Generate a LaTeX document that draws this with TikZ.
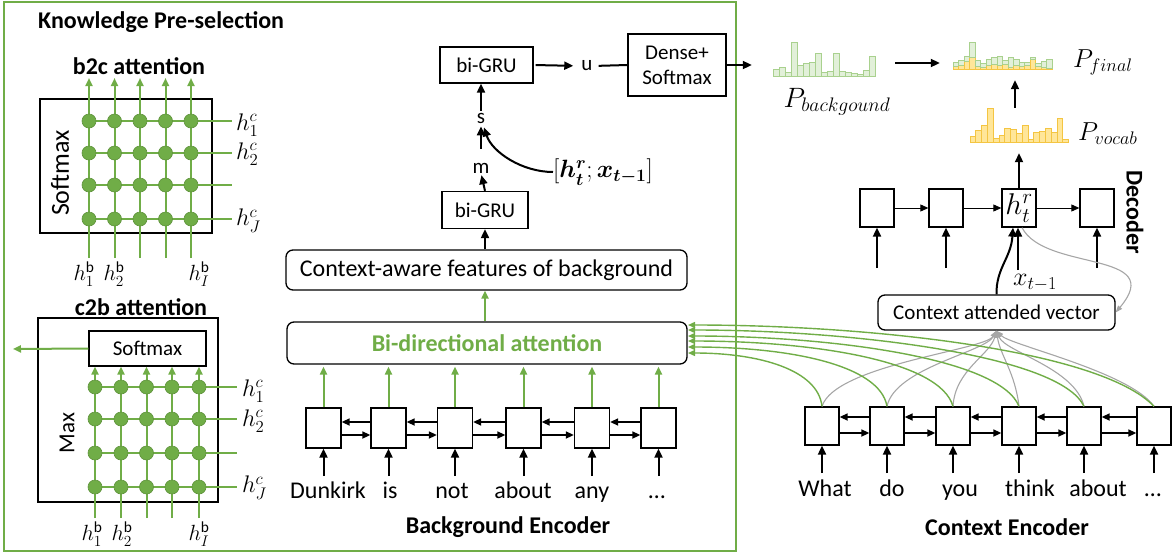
\RequirePackage{fix-cm}
\documentclass[tikz,border=0pt]{standalone}
\usepackage{amsmath}
\usepackage{fontspec}
\setmainfont{Carlito}
\usetikzlibrary{arrows.meta}
\definecolor{ggreen}{HTML}{70AD47}
\definecolor{lgfill}{HTML}{E2F0D9}
\definecolor{lgline}{HTML}{A9D18E}
\definecolor{yfill}{HTML}{FFE699}
\definecolor{yline}{HTML}{F4C542}
\definecolor{cgray}{HTML}{A6A6A6}
\tikzset{
  txt/.style={font=\fontsize{21}{25}\selectfont, inner sep=0pt},
  ltxt/.style={font=\fontsize{24}{28}\selectfont, inner sep=0pt},
  btxt/.style={font=\fontsize{24}{28}\selectfont\bfseries, inner sep=0pt},
  mtxt/.style={font=\fontsize{24}{28}\selectfont, inner sep=0pt},
  hbtxt/.style={font=\fontsize{22}{26}\selectfont, inner sep=0pt},
  ptxt/.style={font=\fontsize{26}{30}\selectfont, inner sep=0pt},
  cell/.style={draw, line width=1.3pt, minimum width=35pt, minimum height=40pt, inner sep=0pt},
  blk/.style={draw, line width=1.3pt, inner sep=0pt},
  rbox/.style={draw, line width=1.3pt, rounded corners=7pt, inner sep=0pt},
  hist/.style={inner sep=0pt, minimum width=100pt},
  arr/.style={line width=2pt, -{Triangle[length=9pt,width=8pt]}},
  harr/.style={line width=1.6pt, -{Triangle[length=8pt,width=7pt]}},
  tarr/.style={line width=0.9pt, -{Triangle[length=8pt,width=7pt]}},
  garr/.style={ggreen, line width=2pt, -{Triangle[length=8pt,width=7pt]}},
  gline/.style={ggreen, line width=2pt},
  gcurve/.style={ggreen, line width=1.4pt, -{Triangle[length=7pt,width=6pt]}},
  graycurve/.style={cgray, line width=1.1pt, -{Triangle[length=7pt,width=5pt]}},
  dot/.style={circle, fill=ggreen, draw=ggreen!85!black, line width=0.6pt, minimum size=14pt, inner sep=0pt},
  gbar/.style={fill=lgfill, draw=lgline, line width=0.8pt},
  ybar/.style={fill=yfill, draw=yline, line width=0.8pt},
  word/.style={font=\fontsize{24}{28}\selectfont, inner sep=0pt, anchor=base},
}
\begin{document}
\begin{tikzpicture}[x=1pt,y=-1pt]
\useasboundingbox (0,0) rectangle (1173,555);
% outer frame
\node[draw=ggreen, line width=2pt, minimum width=732pt, minimum height=549pt, inner sep=0pt] (frame) at (370,276.5) {};
\node[btxt, anchor=west] (title) at (38,22) {Knowledge Pre-selection};

% ---------- b2c attention ----------
\node[btxt] (b2ct) at (139,66) {b2c attention};
\node[blk, minimum width=172pt, minimum height=134pt] (b2cbox) at (126,166) {};
\node[txt, font=\fontsize{26}{30}\selectfont, rotate=90] (b2csm) at (60,173) {Softmax};
\foreach \x [count=\i] in {89,114.5,140,165.5,191} {
  \coordinate (ba\i) at (\x,258);
  \coordinate (bb\i) at (\x,78);
  \draw[garr] (ba\i) -- (bb\i);
}
\foreach \y [count=\j] in {121,153,185,219} {
  \coordinate (ra\j) at (89,\y);
  \coordinate (rb\j) at (232,\y);
  \draw[gline] (ra\j) -- (rb\j);
  \foreach \x [count=\i] in {89,114.5,140,165.5,191} \node[dot] (bd\i\j) at (\x,\y) {};
}
\node[mtxt, anchor=west] (hc1a) at (236,125) {$h_1^c$};
\node[mtxt, anchor=west] (hc2a) at (236,154) {$h_2^c$};
\node[mtxt, anchor=west] (hcJa) at (236,221) {$h_J^c$};
\node[hbtxt] (hb1a) at (84,274) {$h_1^{\mathrm{b}}$};
\node[hbtxt] (hb2a) at (114,274) {$h_2^{\mathrm{b}}$};
\node[hbtxt] (hbIa) at (199,274) {$h_I^{\mathrm{b}}$};

% ---------- c2b attention ----------
\node[btxt] (c2bt) at (141,307) {c2b attention};
\node[blk, minimum width=180pt, minimum height=184pt] (c2bbox) at (128,410) {};
\node[blk, txt, minimum width=117pt, minimum height=35pt] (c2bsm) at (147.5,348.5) {Softmax};
\node[txt, font=\fontsize{23}{27}\selectfont, rotate=90] (c2bmax) at (67,433) {Max};
\coordinate (c2bout) at (13,349);
\draw[garr] (c2bsm.west) -- (c2bout);
\foreach \x [count=\i] in {95,121,146.5,172,199} {
  \coordinate (ca\i) at (\x,518);
  \draw[garr] (ca\i) -- (ca\i |- c2bsm.south);
}
\foreach \y [count=\j] in {387,419,453,487} {
  \coordinate (rc\j) at (95,\y);
  \coordinate (rd\j) at (237,\y);
  \draw[gline] (rc\j) -- (rd\j);
  \foreach \x [count=\i] in {95,121,146.5,172,199} \node[dot] (cd\i\j) at (\x,\y) {};
}
\node[mtxt, anchor=west] (hc1b) at (242,391) {$h_1^c$};
\node[mtxt, anchor=west] (hc2b) at (242,421) {$h_2^c$};
\node[mtxt, anchor=west] (hcJb) at (242,488) {$h_J^c$};
\node[hbtxt] (hb1b) at (92,534) {$h_1^{\mathrm{b}}$};
\node[hbtxt] (hb2b) at (122,534) {$h_2^{\mathrm{b}}$};
\node[hbtxt] (hbIb) at (199,534) {$h_I^{\mathrm{b}}$};

% ---------- knowledge pre-selection pipeline ----------
\node[blk, txt, minimum width=93pt, minimum height=36pt] (gruTop) at (486.5,65) {bi-GRU};
\node[txt] (u) at (587,66) {u};
\node[blk, txt, minimum width=98pt, minimum height=62pt, align=center] (dense) at (677,65) {Dense+\\Softmax};
\draw[arr, shorten <=2pt, shorten >=8pt] (gruTop.east) -- (u.west);
\draw[line width=2pt, shorten <=6pt] (u.east) -- (dense.west);
\node[txt] (s) at (481,118) {s};
\node[txt] (m) at (481,168) {m};
\draw[arr, shorten <=2pt] (s.north) -- (s.north |- gruTop.south);
\draw[arr, shorten <=14pt, shorten >=3pt] (m.north) -- (s.south);
\node[mtxt, font=\fontsize{25}{29}\selectfont] (hx) at (603,172) {$[\boldsymbol{h_t^r};\boldsymbol{x_{t-1}}]$};
\draw[arr] (hx.west) .. controls (522,172) and (492,152) .. ([shift={(3pt,-4pt)}]s.south);
\node[blk, txt, minimum width=86pt, minimum height=37pt] (gruBot) at (485,210) {bi-GRU};
\draw[arr, shorten >=2pt] (gruBot.north) -- (m.south);
\node[rbox, ltxt, minimum width=401pt, minimum height=40pt] (ctx) at (486.5,270) {Context-aware features of background};
\draw[arr] (ctx.north -| gruBot.south) -- (gruBot.south);
\node[rbox, btxt, minimum width=400pt, minimum height=42pt, text=ggreen] (bidir) at (487,343) {Bi-directional attention};
\draw[garr] (bidir.north -| gruBot.south) -- (ctx.south -| gruBot.south);

% background encoder
\foreach \cx/\wx/\w [count=\i] in {323.5/328/Dunkirk,388.5/390/is,455/452/not,523.5/523/about,592/592/any,658.5/657/…} {
  \node[cell] (bc\i) at (\cx,428) {};
  \draw[garr, shorten >=2pt] (bc\i.north) -- (bc\i.north |- bidir.south);
  \coordinate (bi\i) at (\cx,476);
  \draw[arr] (bi\i) -- (bc\i.south);
  \node[word] (bw\i) at (\wx,498) {\w};
}
\foreach \i/\j in {1/2,2/3,3/4,4/5,5/6} {
  \draw[harr] ([yshift=6pt]bc\j.west) -- ([yshift=6pt]bc\i.east);
  \draw[harr] ([yshift=-7pt]bc\i.east) -- ([yshift=-7pt]bc\j.west);
}
\node[btxt] (bgenc) at (508,527) {Background Encoder};

% ---------- distributions ----------
\foreach \h [count=\i from 0] in {7,9,4,34,11,13,14,23,4,5,23,5,4,3,2,6,20}
  \draw[gbar] ({773+6*\i},76) rectangle ++(6,-\h);
\node[hist, minimum width=102pt, minimum height=34pt] (pbg) at (824,59) {};
\foreach \a/\b [count=\i from 0] in {3/4,4/5,8/5,12/15,3/6,2/4,4/6,5/7,4/9,5/4,2/10,4/6,3/4,4/3,10/2,3/3,2/6,1/9}
  { \draw[ybar] ({953+5.5*\i},69) rectangle ++(5.5,-\a);
    \draw[gbar] ({953+5.5*\i},{69-\a}) rectangle ++(5.5,-\b); }
\node[hist, minimum width=99pt, minimum height=27pt] (pfin) at (1002.5,55.5) {};
\foreach \h [count=\i from 0] in {6,12,17,34,4,7,14,13,9,17,3,10,11,14,10,24,3}
  \draw[ybar] ({970+5.8*\i},142) rectangle ++(5.8,-\h);
\node[hist, minimum width=99pt, minimum height=34pt] (pvoc) at (1019.5,125) {};
\node[ptxt, font=\fontsize{28}{32}\selectfont] (pbgl) at (837,102) {$P_{backgound}$};
\node[ptxt, anchor=west] (pfinl) at (1073,62) {$P_{final}$};
\node[ptxt, anchor=west] (pvocl) at (1078,134) {$P_{vocab}$};
\draw[arr, shorten >=21pt] (dense.east) -- (dense.east -| pbg.west);
\draw[arr, shorten <=20pt, shorten >=13pt] (pbg.east |- 0,63) -- (pfin.west |- 0,63);
\draw[arr, shorten >=11pt] (pvoc.north -| 1015,0) -- (pfin.south -| 1015,0);

% ---------- decoder ----------
\node[cell, minimum width=34pt, minimum height=38pt] (d1) at (877,208) {};
\node[cell, minimum width=34pt, minimum height=38pt] (d2) at (946,208) {};
\node[cell, minimum width=34pt, minimum height=38pt, font=\fontsize{30}{34}\selectfont] (d3) at (1019,208) {$h_t^r$};
\node[cell, minimum width=34pt, minimum height=38pt] (d4) at (1097,208) {};
\draw[tarr] (d1.east) -- (d2.west);
\draw[tarr] (d2.east) -- (d3.west);
\draw[tarr] (d3.east) -- (d4.west);
\draw[arr, shorten >=11pt] (d3.north) -- (d3.north |- pvoc.south);
\coordinate (di1) at (877,268);
\coordinate (di2) at (946,268);
\coordinate (di4) at (1097,268);
\draw[arr] (di1) -- (d1.south);
\draw[arr] (di2) -- (d2.south);
\draw[arr] (di4) -- (d4.south);
\node[mtxt, font=\fontsize{26}{30}\selectfont] (xt) at (1035,283) {$x_{t-1}$};
\coordinate (xin) at (1018,270);
\draw[arr] (xin) -- (xin |- d3.south);
\node[btxt, rotate=-90] (dec) at (1135,212) {Decoder};
\node[rbox, txt, minimum width=237pt, minimum height=35pt] (cav) at (996.5,312.5) {Context attended vector};
\draw[arr] (cav.north) .. controls (996,268) and (1011,258) .. ([xshift=-6pt]d3.south);
\draw[graycurve] ([xshift=3pt]d3.south) .. controls (1045,272) and (1168,250) .. (cav.east);

% ---------- context encoder ----------
\foreach \cx/\wx/\w [count=\i] in {822/825/What,887/892/do,953/960/you,1019/1030/think,1084/1098/about,1154/1153/…} {
  \node[cell, minimum width=34pt, minimum height=38pt] (cc\i) at (\cx,426) {};
  \coordinate (ci\i) at (\cx,473);
  \draw[arr] (ci\i) -- (cc\i.south);
  \node[word] (cw\i) at (\wx,496) {\w};
}
\foreach \i/\j in {1/2,2/3,3/4,4/5,5/6} {
  \draw[harr] ([yshift=9pt]cc\j.west) -- ([yshift=9pt]cc\i.east);
  \draw[harr] ([yshift=-7pt]cc\i.east) -- ([yshift=-7pt]cc\j.west);
}
\node[btxt] (cenc) at (1007,527) {Context Encoder};
% gray attention curves
\foreach \i/\ax/\ay/\bx/\by in {1/835/365/985/350,2/895/368/985/352,3/955/370/990/355,4/1015/372/1000/355,5/1075/368/1005/352,6/1130/372/1010/345}
  \draw[graycurve] (cc\i.north) .. controls (\ax,\ay) and (\bx,\by) .. (cav.south);
% green curves to bi-directional attention
\foreach \i/\ax/\ay/\bx/\ty in {1/818/370/760/353,2/880/365/790/347,3/940/360/810/341,4/1000/358/830/336,5/1060/355/850/330,6/1100/350/870/325} {
  \coordinate (gt\i) at (688,\ty);
  \draw[gcurve] (cc\i.north) .. controls (\ax,\ay) and (\bx,\ty) .. (gt\i);
}
\end{tikzpicture}
\end{document}
